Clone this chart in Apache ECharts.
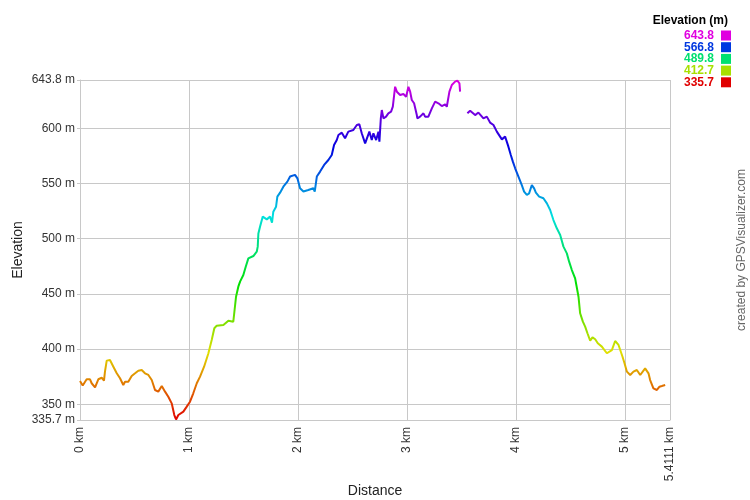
<!DOCTYPE html>
<html>
<head>
<meta charset="utf-8">
<script src="https://cdn.jsdelivr.net/npm/echarts@6/dist/echarts.min.js"></script>
<style>html,body{margin:0;padding:0;background:#fff}#c{width:750px;height:500px}</style>
</head>
<body>
<div id="c"></div>
<script>
// Distance along track (km)
const distanceKm = [0,0.025,0.061,0.092,0.107,0.138,0.168,0.199,0.220,0.229,0.245,0.275,0.306,0.337,0.367,0.397,0.413,0.443,0.474,0.505,0.535,0.566,0.596,0.627,0.658,0.688,0.718,0.750,0.780,0.810,0.841,0.865,0.881,0.902,0.948,0.979,1.009,1.039,1.071,1.101,1.138,1.177,1.208,1.232,1.254,1.315,1.361,1.406,1.416,1.431,1.452,1.468,1.498,1.520,1.544,1.590,1.621,1.630,1.636,1.651,1.676,1.713,1.743,1.761,1.773,1.798,1.810,1.835,1.865,1.902,1.927,1.972,1.994,2.018,2.049,2.094,2.140,2.153,2.172,2.202,2.239,2.278,2.309,2.330,2.355,2.370,2.401,2.431,2.461,2.507,2.539,2.562,2.584,2.615,2.630,2.654,2.676,2.691,2.716,2.737,2.746,2.759,2.768,2.783,2.807,2.828,2.853,2.869,2.890,2.906,2.936,2.966,2.991,3.012,3.028,3.043,3.064,3.089,3.094,3.119,3.150,3.165,3.195,3.227,3.257,3.287,3.318,3.349,3.364,3.388,3.410,3.440,3.461,3.480,3.486,3.520,3.553,3.578,3.624,3.654,3.700,3.731,3.761,3.792,3.823,3.869,3.899,3.929,3.951,3.970,3.991,4.021,4.052,4.073,4.098,4.119,4.144,4.165,4.181,4.211,4.250,4.282,4.312,4.342,4.373,4.404,4.434,4.465,4.486,4.511,4.541,4.572,4.587,4.612,4.633,4.654,4.679,4.700,4.725,4.749,4.786,4.832,4.878,4.908,4.939,4.975,4.994,5.016,5.046,5.076,5.107,5.138,5.153,5.183,5.214,5.229,5.259,5.291,5.315,5.336,5.367,5.397,5.411];
// Elevation (m); null = gap in the track
const elevationM = [371,367,372.6,372.6,369,365.3,372.6,374,371.4,379.5,389.5,390,384,378,373.5,367.4,370.4,370.4,375.6,378,380.4,381,378,376.5,372,362.9,361.4,366.5,361.4,356.8,350.8,340.2,336.2,340.2,343.3,347.8,352.3,359.9,369,375,384,396,408.2,418.8,421.2,421.8,425.7,424.8,433.8,447.4,456.5,461.1,467.1,474.6,482.2,484.3,488.2,492.8,504.8,510.9,520,517.5,520,514.6,524.5,529,538.1,541.7,547.1,551.7,556.3,557.8,554.7,545.7,542.7,544.1,545.7,542.7,556.3,560.8,566.8,571.3,575.8,584.9,589.4,594,596.1,591,597,598.5,603,603.7,595.5,586.4,584.9,597,589.4,595.5,589.4,597,588,609,616.6,609,610.6,613.6,615.1,619.6,637.7,633.2,630.2,631.1,628.7,637.7,633.2,625.7,622.7,612,609,610.6,613.6,610.6,610.6,618.1,624.2,622.7,620.2,621.8,619.6,633.2,639.3,642.3,643.2,640.8,633.2,null,613.6,616,612,614.3,609,610.6,605.2,603,597,590,592.5,583.4,575.8,569.8,563.8,556.3,548.6,542.7,539.6,541.1,548.6,545.6,541.7,538.1,536.6,532,526,516.9,509.4,503.3,492.8,486.7,479.2,471.6,464,447.4,432.4,424.8,420.3,414.3,407.6,410.6,408.9,405.2,402.2,396.2,399.1,407.3,403.7,393.2,387.1,379.5,376.5,379.5,381,376.5,378,382.5,378,371.9,364.4,362.9,365.9,366.5,367.4];
const xTicks = [0,1,2,3,4,5,5.4111];
const yTicks = [335.7,350,400,450,500,550,600,643.8];
const legendValues = [643.8,566.8,489.8,412.7,335.7];
const legendColors = ['#e000e0','#0038e0','#00e070','#a8e000','#e00000'];
const rampColors = ['#e00000','#e07000','#e0e000','#70e000','#00e000','#00e070','#00e0e0','#0070e0','#0000e0','#7000e0','#e000e0'];

const FONT = '"Liberation Sans", Arial, sans-serif';
const data = distanceKm.map((d, i) => [d, elevationM[i] == null ? '-' : elevationM[i]]);

const graphics = [{
  type: 'text', x: 728, y: 15,
  style: {text: 'Elevation (m)', font: 'bold 12px ' + FONT, fill: '#000', align: 'right', verticalAlign: 'top'}
}];
legendValues.forEach((v, i) => {
  graphics.push({type: 'text', x: 714, y: 35.5 + i * 11.7, style: {text: v.toFixed(1), font: 'bold 12px ' + FONT, fill: legendColors[i], align: 'right', verticalAlign: 'middle'}});
  graphics.push({type: 'rect', shape: {x: 721, y: 30.5 + i * 11.7, width: 10, height: 10}, style: {fill: legendColors[i]}});
});
graphics.push({
  type: 'text', x: 748, y: 250, rotation: Math.PI / 2,
  style: {text: 'created by GPSVisualizer.com', font: '12px ' + FONT, fill: '#666', align: 'center', verticalAlign: 'bottom'}
});

const chart = echarts.init(document.getElementById('c'), null, {renderer: 'canvas'});
chart.setOption({
  animation: false,
  backgroundColor: '#fff',
  grid: {left: 80, right: 80, top: 80, bottom: 80, show: false, containLabel: false, outerBoundsMode: 'none'},
  xAxis: {
    type: 'value', min: 0, max: 5.4111,
    name: 'Distance', nameLocation: 'middle', nameGap: 64, nameMoveOverlap: false,
    nameTextStyle: {fontFamily: FONT, fontSize: 14, color: '#222'},
    axisLine: {show: true, onZero: false, lineStyle: {color: '#c8c8c8'}},
    axisTick: {show: false, customValues: xTicks},
    axisLabel: {customValues: xTicks, rotate: 90, margin: 7, fontFamily: FONT, fontSize: 12, color: '#333', formatter: v => v + ' km'},
    splitLine: {show: true, lineStyle: {color: '#c8c8c8', width: 1}}
  },
  yAxis: {
    type: 'value', min: 335.7, max: 643.8,
    name: 'Elevation', nameLocation: 'middle', nameGap: 55, nameRotate: 90, nameMoveOverlap: false,
    nameTextStyle: {fontFamily: FONT, fontSize: 14, color: '#222'},
    axisLine: {show: true, lineStyle: {color: '#c8c8c8'}},
    axisTick: {show: true, length: 3, customValues: yTicks, lineStyle: {color: '#c8c8c8'}},
    axisLabel: {customValues: yTicks, margin: 5, fontFamily: FONT, fontSize: 12, color: '#333', formatter: v => v + ' m'},
    splitLine: {show: true, lineStyle: {color: '#c8c8c8', width: 1}}
  },
  visualMap: {
    type: 'continuous', show: false, dimension: 1, min: 335.7, max: 643.8, seriesIndex: 0,
    inRange: {color: rampColors}
  },
  series: [{
    type: 'line', data: data, showSymbol: false, symbol: 'none', connectNulls: false,
    lineStyle: {width: 2}
  }],
  graphic: graphics
});
</script>
</body>
</html>
